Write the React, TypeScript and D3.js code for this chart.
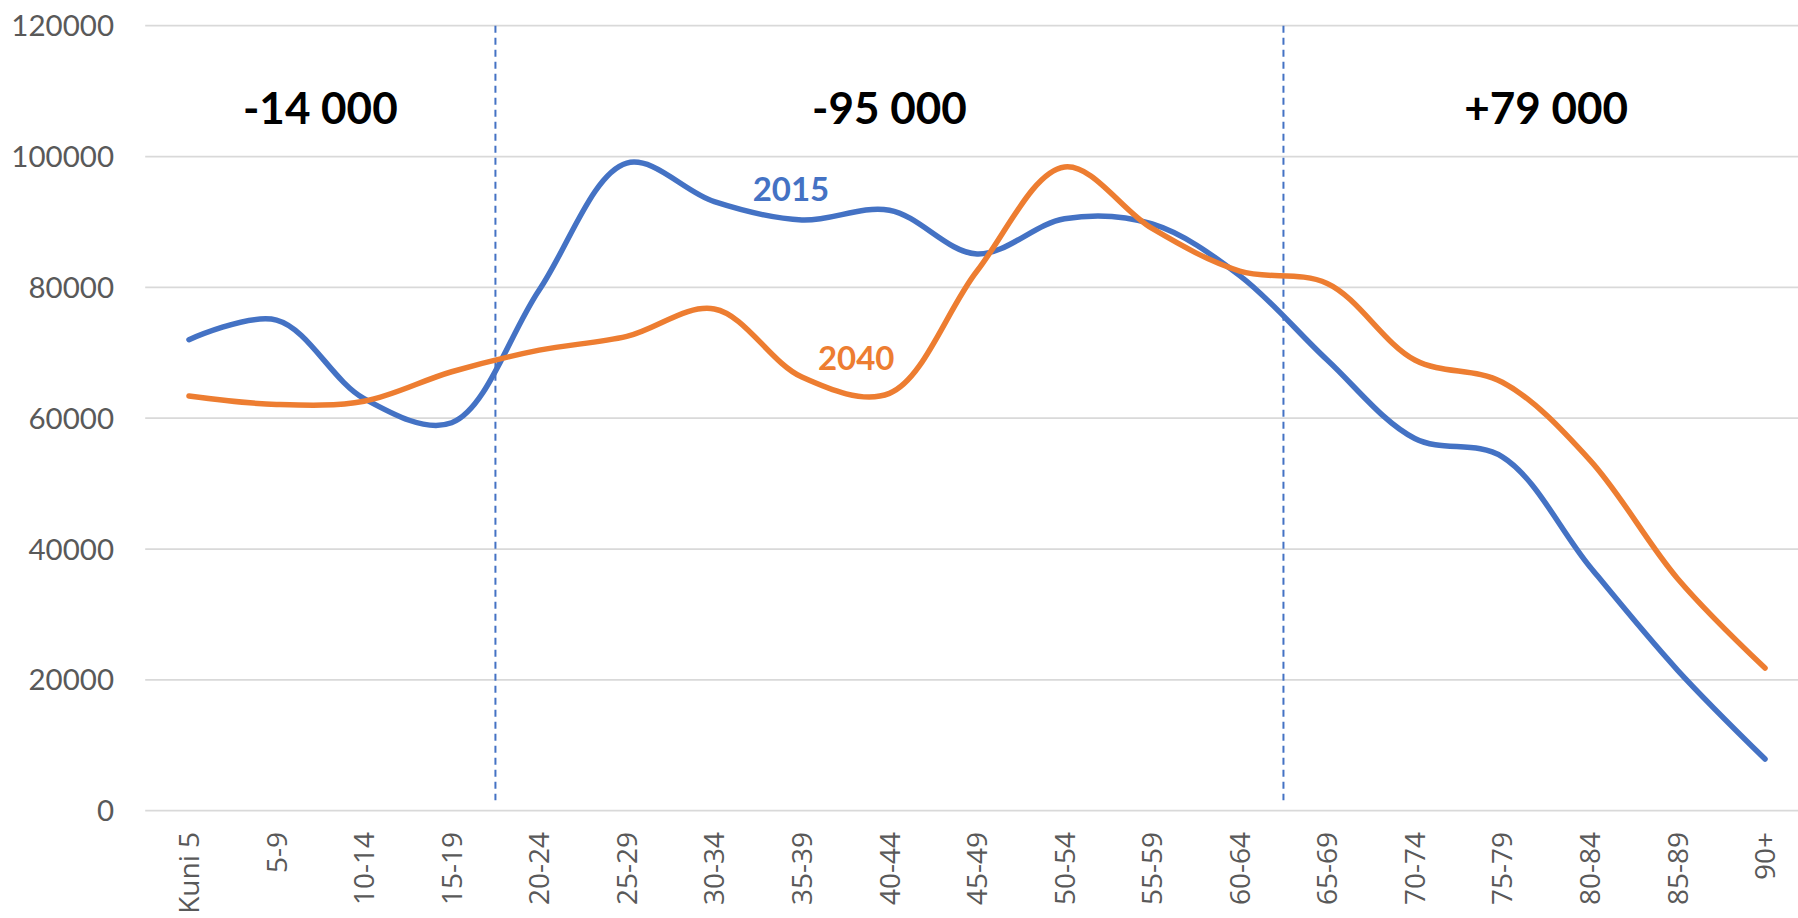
import React from 'react';
import * as d3 from 'd3';

const ageGroups = [
  'Kuni 5', '5-9', '10-14', '15-19', '20-24', '25-29', '30-34', '35-39', '40-44',
  '45-49', '50-54', '55-59', '60-64', '65-69', '70-74', '75-79', '80-84', '85-89', '90+',
];

const pop2015 = [
  72000, 75000, 63000, 59300, 79600, 99000, 93100, 90300, 91800,
  85100, 90500, 89700, 81800, 68900, 56900, 54100, 37300, 21500, 7900,
];

const pop2040 = [
  63400, 62100, 62600, 67100, 70400, 72500, 76700, 66300, 63800,
  82500, 98400, 89000, 82500, 80600, 68900, 65500, 53600, 35500, 21800,
];

const yTicks = [0, 20000, 40000, 60000, 80000, 100000, 120000];

// dashed separators sit before these groups
const dividers = ['20-24', '65-69'];

// change per age block: first and last group index
const changeLabels = [
  { text: '-14 000', from: 0, to: 3 },
  { text: '-95 000', from: 4, to: 12 },
  { text: '+79 000', from: 13, to: 18 },
];

const seriesLabels = [
  { text: '2015', at: 6.875, value: 93200, color: '#4472C4' },
  { text: '2040', at: 7.62, value: 67300, color: '#ED7D31' },
];

const W = 1798;
const H = 918;

export default function App() {
  const x = d3.scaleBand<string>().domain(ageGroups).range([145.2, 1808.8]).padding(0);
  const y = d3.scaleLinear().domain([0, 120000]).range([810.7, 25.7]);
  const cx = (i: number) => (x(ageGroups[i]) as number) + x.bandwidth() / 2;
  const xi = d3.scaleLinear().domain([0, ageGroups.length - 1]).range([cx(0), cx(ageGroups.length - 1)]);

  const line = d3.line<number>()
    .x((_, i) => cx(i))
    .y(d => y(d))
    .curve(d3.curveCatmullRom.alpha(0.5));

  const series = [
    { values: pop2015, color: '#4472C4' },
    { values: pop2040, color: '#ED7D31' },
  ];

  return (
    <svg width={W} height={H} style={{ position: 'absolute', left: 0, top: 0, background: '#fff' }}>
      {/* gridlines */}
      {yTicks.map(t => (
        <line key={t} x1={x.range()[0]} x2={W} y1={y(t)} y2={y(t)} stroke="#D9D9D9" strokeWidth={1.8} />
      ))}
      {/* y labels */}
      {yTicks.map(t => (
        <text key={'l' + t} x={114} y={y(t)} dy="0.36em" textAnchor="end"
          fontFamily="Lato, sans-serif" fontSize={29.5} fill="#595959">{t}</text>
      ))}
      {/* x labels */}
      {ageGroups.map((g, i) => (
        <text key={g} transform={`translate(${cx(i)},832) rotate(-90)`} textAnchor="end" dy="0.36em"
          fontFamily="'Open Sans', sans-serif" fontSize={28} fill="#595959">{g}</text>
      ))}
      {/* dividers */}
      {dividers.map(g => (
        <line key={g} x1={x(g)} x2={x(g)} y1={y(120000)} y2={y(1600)}
          stroke="#4472C4" strokeWidth={2} strokeDasharray="7,5" />
      ))}
      {/* series */}
      {series.map(s => (
        <path key={s.color} d={line(s.values) ?? ''} fill="none" stroke={s.color}
          strokeWidth={5.5} strokeLinecap="round" strokeLinejoin="round" />
      ))}
      {seriesLabels.map(l => (
        <text key={l.text} x={xi(l.at)} y={y(l.value)} textAnchor="middle"
          fontFamily="Lato, sans-serif" fontWeight="bold" fontSize={33} fill={l.color}>{l.text}</text>
      ))}
      {changeLabels.map(c => (
        <text key={c.text} x={(cx(c.from) + cx(c.to)) / 2} y={y(105000)} textAnchor="middle"
          fontFamily="Lato, sans-serif" fontWeight="bold" fontSize={44} fill="#000">{c.text}</text>
      ))}
    </svg>
  );
}
